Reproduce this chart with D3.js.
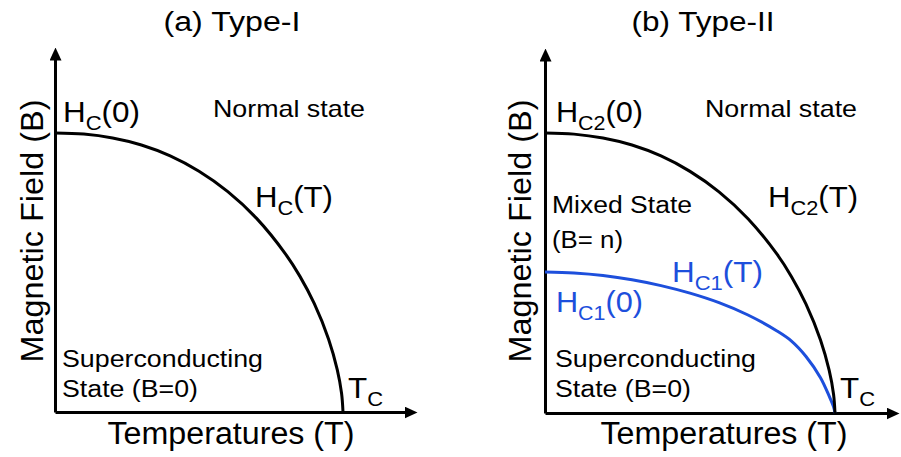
<!DOCTYPE html>
<html lang="en">
<head>
<meta charset="utf-8">
<title>Type-I and Type-II superconductors</title>
<script src="https://d3js.org/d3.v7.min.js"></script>
<style>
  body { margin: 0; background: #fff; }
  text { font-family: "Liberation Sans", Arial, Helvetica, sans-serif; }
</style>
</head>
<body>
<script>
// reduced temperature T/Tc
var temps    = [0, 0.1, 0.2, 0.3, 0.4, 0.5, 0.6, 0.7, 0.8, 0.85, 0.9, 0.95, 0.98, 0.995, 1];
// critical fields, as a fraction of Hc(0) / Hc2(0)
var hcType1  = [1, 0.996, 0.982, 0.957, 0.918, 0.863, 0.79, 0.694, 0.567, 0.487, 0.389, 0.261, 0.152, 0.067, 0];
var hc2Type2 = [1, 0.996, 0.982, 0.957, 0.918, 0.863, 0.79, 0.694, 0.567, 0.487, 0.389, 0.261, 0.152, 0.067, 0];
var hc1Type2 = [0.504, 0.5, 0.491, 0.476, 0.455, 0.428, 0.394, 0.35, 0.293, 0.257, 0.202, 0.126, 0.06, 0.022, 0];

var titles = ["(a) Type-I", "(b) Type-II"];
var xTitle = "Temperatures (T)";
var yTitle = "Magnetic Field (B)";

var w = 901, h = 457;
var blue = "#1d4fdc";

var svg = d3.select("body").append("svg")
    .attr("width", w)
    .attr("height", h);

svg.append("defs").append("marker")
    .attr("id", "arrow")
    .attr("markerUnits", "userSpaceOnUse")
    .attr("markerWidth", 13)
    .attr("markerHeight", 12)
    .attr("refX", 3)
    .attr("refY", 6)
    .attr("orient", "auto")
  .append("path")
    .attr("d", "M0,0L13,6L0,12Z")
    .attr("fill", "#000");

// layout of the two panels (pixels)
var panels = [
  {x0: 55,  x1: 343, xTip: 417, y0: 412, y1: 133, yTip: 47},
  {x0: 545, x1: 835, xTip: 899, y0: 413, y1: 133, yTip: 48}
];

function label(g, x, y, parts, size, color, len, anchor) {
  var t = g.append("text")
      .attr("x", x)
      .attr("y", y)
      .attr("font-size", size)
      .attr("fill", color || "#000")
      .attr("text-anchor", anchor || "start");
  var shift = 0;
  parts.forEach(function(p) {
    var s = t.append("tspan").text(p[0]);
    if (p[1]) {
      s.attr("font-size", size * 0.7).attr("dy", size * 0.27 - shift);
      shift = size * 0.27;
    } else if (shift) {
      s.attr("dy", -shift);
      shift = 0;
    }
  });
  if (len) t.attr("textLength", len).attr("lengthAdjust", "spacingAndGlyphs");
  return t;
}

panels.forEach(function(p, i) {
  var g = svg.append("g");

  var x = d3.scaleLinear().domain([0, 1]).range([p.x0, p.x1]);
  var y = d3.scaleLinear().domain([0, 1]).range([p.y0, p.y1]);

  // axes stop short of the tip, the marker carries them the rest of the way
  var xa = x.copy().domain([0, x.invert(p.xTip - 10)]).range([p.x0, p.xTip - 10]);
  var ya = y.copy().domain([0, y.invert(p.yTip + 10)]).range([p.y0, p.yTip + 10]);

  g.append("g")
      .attr("transform", "translate(0," + p.y0 + ")")
      .call(d3.axisBottom(xa).ticks(0).tickSizeOuter(0));
  g.append("g")
      .attr("transform", "translate(" + p.x0 + ",0)")
      .call(d3.axisLeft(ya).ticks(0).tickSizeOuter(0));
  g.selectAll(".domain")
      .attr("stroke", "#000")
      .attr("stroke-width", 3)
      .attr("marker-end", "url(#arrow)");

  var line = function(vals) {
    return d3.line()
        .x(function(d, k) { return x(temps[k]); })
        .y(function(d) { return y(d); })
        .curve(d3.curveCatmullRom.alpha(0.5))(vals);
  };

  if (i === 1) {
    g.append("path")
        .attr("d", line(hc1Type2))
        .attr("fill", "none")
        .attr("stroke", blue)
        .attr("stroke-width", 3);
  }
  g.append("path")
      .attr("d", line(i === 0 ? hcType1 : hc2Type2))
      .attr("fill", "none")
      .attr("stroke", "#000")
      .attr("stroke-width", 3);

  // titles and axis names
  label(g, i === 0 ? 232 : 703, 31, [[titles[i]]], 27, "#000", i === 0 ? 137 : 143, "middle");
  label(g, i === 0 ? 231 : 724, 444, [[xTitle]], 31, "#000", 247, "middle");
  label(g, 0, 0, [[yTitle]], 32, "#000", 263, "middle")
      .attr("transform", "translate(" + (i === 0 ? 43 : 531) + ",231) rotate(-90)");

  var dx = i === 0 ? 0 : 493;
  label(g, 213 + dx - (i === 0 ? 0 : 1), 117, [["Normal state"]], 24, "#000", 152);
  label(g, 62 + dx, 367, [["Superconducting"]], 23, "#000", 201);
  label(g, 62 + dx, 397, [["State (B=0)"]], 23, "#000", 136);
  label(g, i === 0 ? 348 : 840, 398, [["T"], ["C", true]], 30, "#000", 35);

  if (i === 0) {
    label(g, 63, 122, [["H"], ["C", true], ["(0)"]], 30, "#000", 77);
    label(g, 255, 207, [["H"], ["C", true], ["(T)"]], 30, "#000", 78);
  } else {
    label(g, 556, 122, [["H"], ["C2", true], ["(0)"]], 30, "#000", 87);
    label(g, 768, 207, [["H"], ["C2", true], ["(T)"]], 30, "#000", 90);
    label(g, 552, 213, [["Mixed State"]], 23, "#000", 140);
    label(g, 552, 248, [["(B= n)"]], 23, "#000", 71);
    label(g, 672, 282, [["H"], ["C1", true], ["(T)"]], 30, blue, 91);
    label(g, 556, 312, [["H"], ["C1", true], ["(0)"]], 30, blue, 87);
  }
});
</script>
</body>
</html>
